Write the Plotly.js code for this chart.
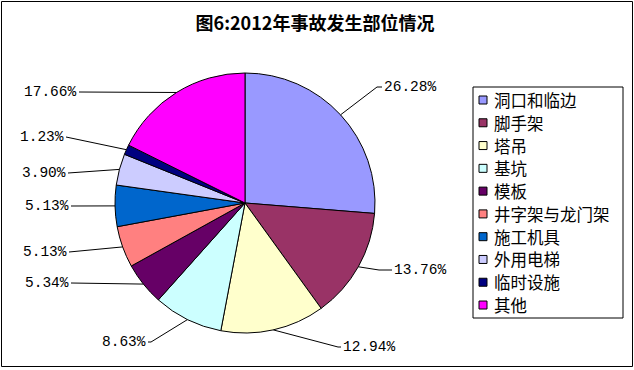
<!DOCTYPE html>
<html><head><meta charset="utf-8">
<script src="https://cdn.plot.ly/plotly-3.0.1.min.js"></script>
<style>html,body{margin:0;padding:0;background:#fff}#chart{width:634px;height:370px}</style>
</head><body><div id="chart"></div>
<script>
// ---- data ----
const categories = ['洞口和临边','脚手架','塔吊','基坑','模板','井字架与龙门架','施工机具','外用电梯','临时设施','其他'];
const shares = [26.28, 13.76, 12.94, 8.63, 5.34, 5.13, 5.13, 3.90, 1.23, 17.66];
const colors = ['#9999FF','#993366','#FFFFCC','#CCFFFF','#660066','#FF8080','#0066CC','#CCCCFF','#000080','#FF00FF'];
const titleText = '图6:2012年事故发生部位情况';

// ---- layout constants (pixels) ----
const W = 634, H = 370;
const pieCx = 245, pieCy = 203, pieR = 130;
const labelAnchors = [[383,87],[393,270],[342,347],[147,342],[70,283],[68,252],[70,206],[67,173],[65,137],[78,92]];
const elbowLen = [5,13,3,3,0,0,0,0,0,0];
const legendBox = {x0:473, y0:87, x1:623, y1:318};
const legendRow0 = 100, legendStep = 22.78;

const px = x => x / W;
const py = y => 1 - y / H;

const total = shares.reduce((a,b)=>a+b,0);
const shapes = [];
const annotations = [];

// outer border
shapes.push({type:'rect', xref:'paper', yref:'paper', x0:px(1.5), x1:px(632.5), y0:py(1.5), y1:py(366.5),
  line:{color:'#000', width:1}, fillcolor:'rgba(0,0,0,0)', layer:'above'});

// leader lines + labels
let cum = 0;
shares.forEach((v,i)=>{
  const mid = (cum + v/2) / total * 2*Math.PI;
  cum += v;
  const ex = pieCx + pieR*Math.sin(mid), ey = pieCy - pieR*Math.cos(mid);
  const [ax, ay] = labelAnchors[i];
  const right = ax > pieCx;
  const endX = right ? ax - 1 : ax + 1;
  const elX = right ? endX - elbowLen[i] : endX + elbowLen[i];
  const path = `M${px(ex)},${py(ey)} L${px(elX)},${py(ay)} L${px(endX)},${py(ay)}`;
  shapes.push({type:'path', xref:'paper', yref:'paper', path:path, line:{color:'#000', width:1}});
  annotations.push({xref:'paper', yref:'paper', x:px(ax), y:py(ay), xanchor: right?'left':'right', yanchor:'middle',
    text: v.toFixed(2)+'%', showarrow:false, borderpad:0,
    font:{family:'Liberation Mono, DejaVu Sans Mono, monospace', size:14.5, color:'#000'}});
});

// legend
shapes.push({type:'rect', xref:'paper', yref:'paper', x0:px(legendBox.x0), x1:px(legendBox.x1), y0:py(legendBox.y0), y1:py(legendBox.y1),
  line:{color:'#000', width:1}, fillcolor:'#fff', layer:'below'});
categories.forEach((c,i)=>{
  const cy = legendRow0 + i*legendStep;
  shapes.push({type:'rect', xref:'paper', yref:'paper', x0:px(479), x1:px(487), y0:py(cy-4), y1:py(cy+4),
    line:{color:'#000', width:1}, fillcolor:colors[i]});
  annotations.push({xref:'paper', yref:'paper', x:px(493), y:py(cy), xanchor:'left', yanchor:'middle',
    text:c, showarrow:false, borderpad:0,
    font:{family:'Noto Sans CJK SC, sans-serif', size:16.5, color:'#000'}});
});

const trace = {
  type:'pie', values: shares, labels: categories, sort:false, direction:'clockwise', rotation:0,
  marker:{colors: colors, line:{color:'#000', width:1}},
  textinfo:'none', hoverinfo:'label+percent', showlegend:false,
  domain:{x:[px(pieCx-pieR), px(pieCx+pieR)], y:[py(pieCy+pieR), py(pieCy-pieR)]}
};

const layout = {
  width:W, height:H, margin:{l:0,r:0,t:0,b:0}, paper_bgcolor:'#fff', showlegend:false,
  title:{text: titleText, x: px(315), y: py(24), xanchor:'center', yanchor:'middle',
    font:{family:'Noto Sans CJK SC, sans-serif', size:18, color:'#000', weight:'bold'}},
  shapes: shapes, annotations: annotations
};

Plotly.newPlot('chart', [trace], layout, {staticPlot:true, displayModeBar:false});
</script>
</body></html>
